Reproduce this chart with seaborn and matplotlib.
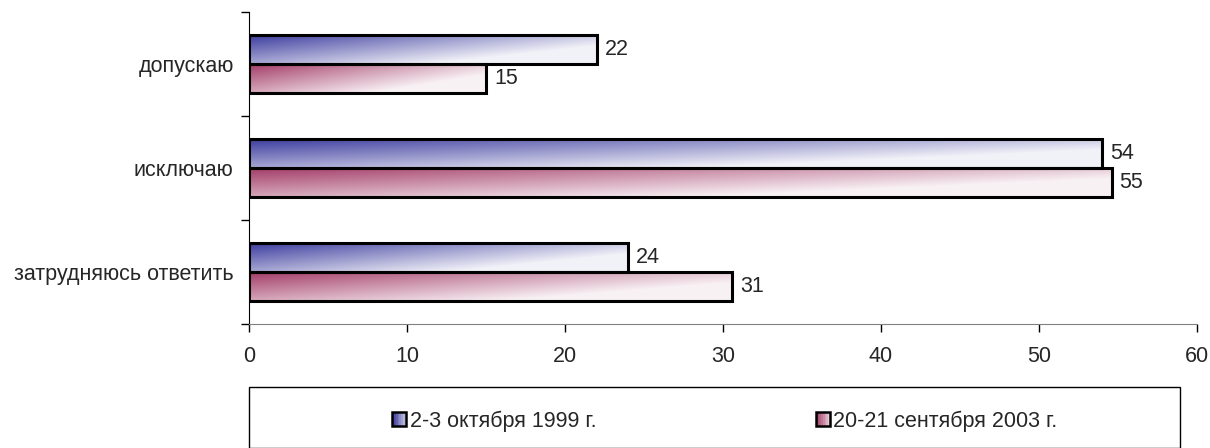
import numpy as np
import pandas as pd
import matplotlib
matplotlib.use("Agg")
import matplotlib.pyplot as plt
from matplotlib.patches import Rectangle
from matplotlib.legend_handler import HandlerBase
import seaborn as sns

sns.set_style("white")
plt.rcParams['font.family'] = ['Liberation Sans', 'DejaVu Sans']

# data
categories = ['допускаю', 'исключаю', 'затрудняюсь ответить']
series = ['2-3 октября 1999 г.', '20-21 сентября 2003 г.']
vals_1999 = [22, 54, 24]
vals_2003 = [15, 54.6, 30.6]
start_colors = ['#3a3a9e', '#a23a66']
FS = 15.5

df = pd.DataFrame({
    'cat': categories * 2,
    'val': vals_1999 + vals_2003,
    'ser': [series[0]] * 3 + [series[1]] * 3,
})


def grad_rgb(c, nx=120, ny=30):
    # diagonal gradient: dark at top-left, pale at bottom-right
    c = np.array(matplotlib.colors.to_rgb(c))
    xx, yy = np.meshgrid(np.linspace(0, 1, nx), np.linspace(0, 1, ny))
    t = np.clip(0.72 * xx + 0.55 * yy, 0, 0.93)[..., None]
    return c * (1 - t) + np.ones(3) * t


class HandlerGradient(HandlerBase):
    def __init__(self, color):
        super().__init__()
        self.color = color

    def create_artists(self, legend, orig_handle, xdescent, ydescent,
                       width, height, fontsize, trans):
        side = min(width, height)
        x0, y0 = -xdescent, -ydescent + (height - side) / 2
        n = 8
        cols = grad_rgb(self.color, n, 1)[0]
        arts = []
        for i in range(n):
            r = Rectangle((x0 + i * side / n, y0), side / n, side,
                          facecolor=cols[i], edgecolor='none', transform=trans)
            arts.append(r)
        arts.append(Rectangle((x0, y0), side, side, facecolor='none',
                              edgecolor='black', lw=1.8, transform=trans))
        return arts


fig = plt.figure(figsize=(12.1, 4.48), dpi=100)
ax = fig.add_axes([249 / 1210, 1 - 324 / 448, 948 / 1210, 312 / 448])

sns.barplot(data=df, y='cat', x='val', hue='ser', orient='h',
            palette=start_colors, width=0.56, legend=False, ax=ax,
            edgecolor='black', linewidth=2.2)

for cont, col in zip(ax.containers, start_colors):
    for p in cont.patches:
        x0, y0 = p.get_x(), p.get_y()
        w, h = p.get_width(), p.get_height()
        p.set_facecolor('none')
        p.set_zorder(3)
        im = ax.imshow(grad_rgb(col), extent=(x0, x0 + w, y0 + h, y0),
                       origin='upper', aspect='auto', zorder=2,
                       interpolation='bilinear')
        im.set_clip_path(p)
        ax.text(x0 + w + 0.5, y0 + h / 2, f"{w:.0f}", va='center',
                ha='left', fontsize=FS)

ax.set_xlim(0, 60)
ax.set_ylim(2.5, -0.5)
ax.set_xticks(range(0, 61, 10))
ax.set_yticks([-0.5, 0.5, 1.5, 2.5])
ax.set_yticklabels([])
ax.set_yticks(range(3), minor=True)
ax.set_yticklabels(categories, minor=True, fontsize=FS)
ax.tick_params(axis='y', which='major', left=True, length=6, width=1, color='black')
ax.tick_params(axis='y', which='minor', left=True, length=0, pad=11)
ax.tick_params(axis='x', bottom=True, length=6, width=1, color='black',
               labelsize=FS, pad=10)
ax.set_xlabel('')
ax.set_ylabel('')
for s in ['top', 'right']:
    ax.spines[s].set_visible(False)
ax.spines['left'].set_color('black')
ax.spines['bottom'].set_color('#808080')

# legend box
fig.patches.append(Rectangle((249 / 1210, 0), 931 / 1210, 61 / 448,
                             transform=fig.transFigure, facecolor='white',
                             edgecolor='black', lw=1))
h1 = Rectangle((0, 0), 1, 1)
h2 = Rectangle((0, 0), 1, 1)
fig.legend([h1, h2], series, loc='center', bbox_to_anchor=(0.599, 1 - 421 / 448),
           ncol=2, frameon=False, fontsize=FS, handlelength=0.65,
           handleheight=0.65, handletextpad=0.15, columnspacing=10.2,
           handler_map={h1: HandlerGradient(start_colors[0]),
                        h2: HandlerGradient(start_colors[1])})

fig.savefig('out.png', dpi=100)
